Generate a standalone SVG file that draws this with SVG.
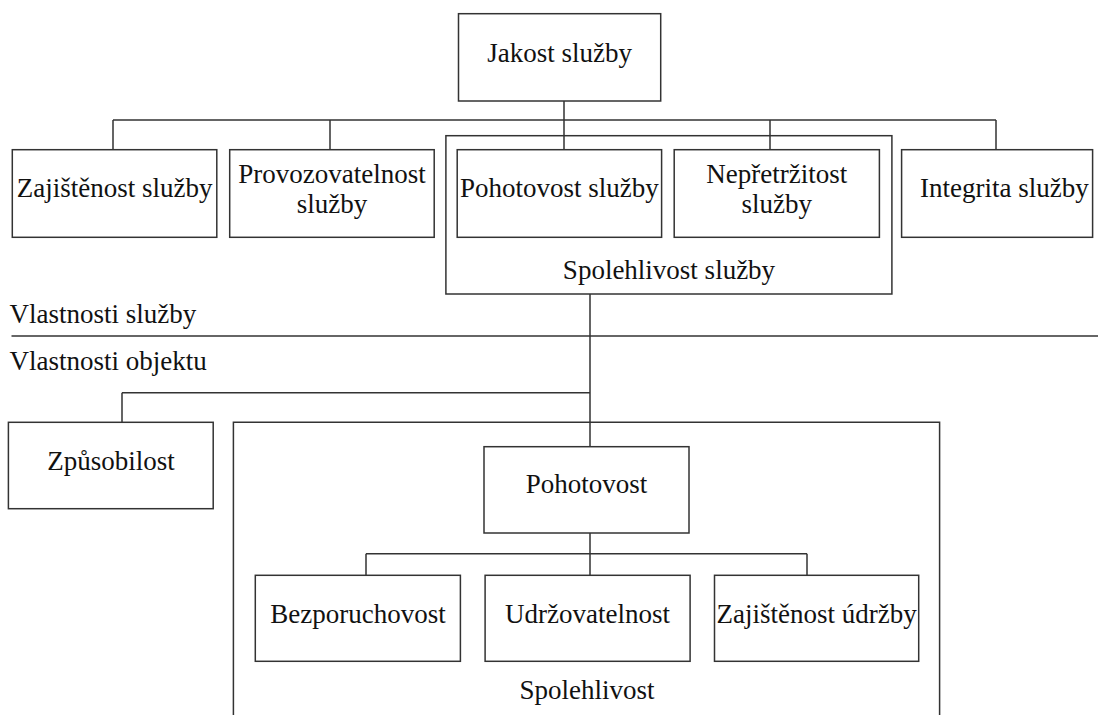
<svg xmlns="http://www.w3.org/2000/svg" width="1098" height="715" viewBox="0 0 1098 715">
<style>
.box{fill:none;stroke:#333;stroke-width:1.5}
.ln{fill:none;stroke:#333;stroke-width:1.5}
text{font-family:"Liberation Serif","Times New Roman",serif;font-size:27px;fill:#111}
.c{text-anchor:middle}
</style>
<rect width="1098" height="715" fill="#fff"/>
<g id="connectors">
<path class="ln" d="M564 101V120M113 120H996M113 120V149.7M330 120V149.7M564 120V149.7M770 120V149.7M996 120V149.7"/>
<path class="ln" d="M590 294V446.7M122 392.7H590M122 392.7V422.3"/>
<path class="ln" d="M590 533V575.3M366 553.7H807M366 553.7V575.3M807 553.7V575.3"/>
</g>
<g id="divider">
<path class="ln" d="M11.5 336H1098"/>
<text x="9.6" y="323.3">Vlastnosti služby</text>
<text x="9.6" y="370">Vlastnosti objektu</text>
</g>
<g id="jakost"><rect class="box" x="458.5" y="13.7" width="202.2" height="87.3"/><text class="c" x="559.6" y="62">Jakost služby</text></g>
<g id="zajistenost"><rect class="box" x="12.3" y="149.7" width="204.5" height="87.6"/><text class="c" x="114.6" y="197">Zajištěnost služby</text></g>
<g id="provozovatelnost"><rect class="box" x="229.7" y="149.7" width="204.5" height="87.6"/><text class="c" x="332" y="182.7">Provozovatelnost</text><text class="c" x="332" y="213.3">služby</text></g>
<g id="spolehlivost-sluzby"><rect class="box" x="445.9" y="135.7" width="446" height="158.3"/><text class="c" x="669" y="278.5">Spolehlivost služby</text></g>
<g id="pohotovost-sluzby"><rect class="box" x="457.2" y="149.7" width="204.4" height="87.6"/><text class="c" x="559.3" y="197">Pohotovost služby</text></g>
<g id="nepretrzitost"><rect class="box" x="674.2" y="149.7" width="205.2" height="87.6"/><text class="c" x="776.8" y="182.7">Nepřetržitost</text><text class="c" x="776.8" y="213.3">služby</text></g>
<g id="integrita"><rect class="box" x="901.6" y="149.7" width="191" height="87.6"/><text x="920" y="197">Integrita služby</text></g>
<g id="zpusobilost"><rect class="box" x="8.4" y="422.3" width="204.8" height="86.4"/><text class="c" x="111" y="470">Způsobilost</text></g>
<g id="spolehlivost"><path class="box" d="M233.4 720V422.3H939.6V720"/><text class="c" x="587" y="698.5">Spolehlivost</text></g>
<g id="pohotovost"><rect class="box" x="484" y="446.7" width="205" height="86.3"/><text class="c" x="586.5" y="493.3">Pohotovost</text></g>
<g id="bezporuchovost"><rect class="box" x="255.3" y="575.3" width="205.1" height="86"/><text class="c" x="358" y="622.7">Bezporuchovost</text></g>
<g id="udrzovatelnost"><rect class="box" x="485.1" y="575.3" width="205" height="86"/><text class="c" x="587.6" y="622.7">Udržovatelnost</text></g>
<g id="zajistenost-udrzby"><rect class="box" x="714.5" y="575.3" width="204.2" height="86"/><text class="c" x="816.6" y="622.7">Zajištěnost údržby</text></g>
</svg>
